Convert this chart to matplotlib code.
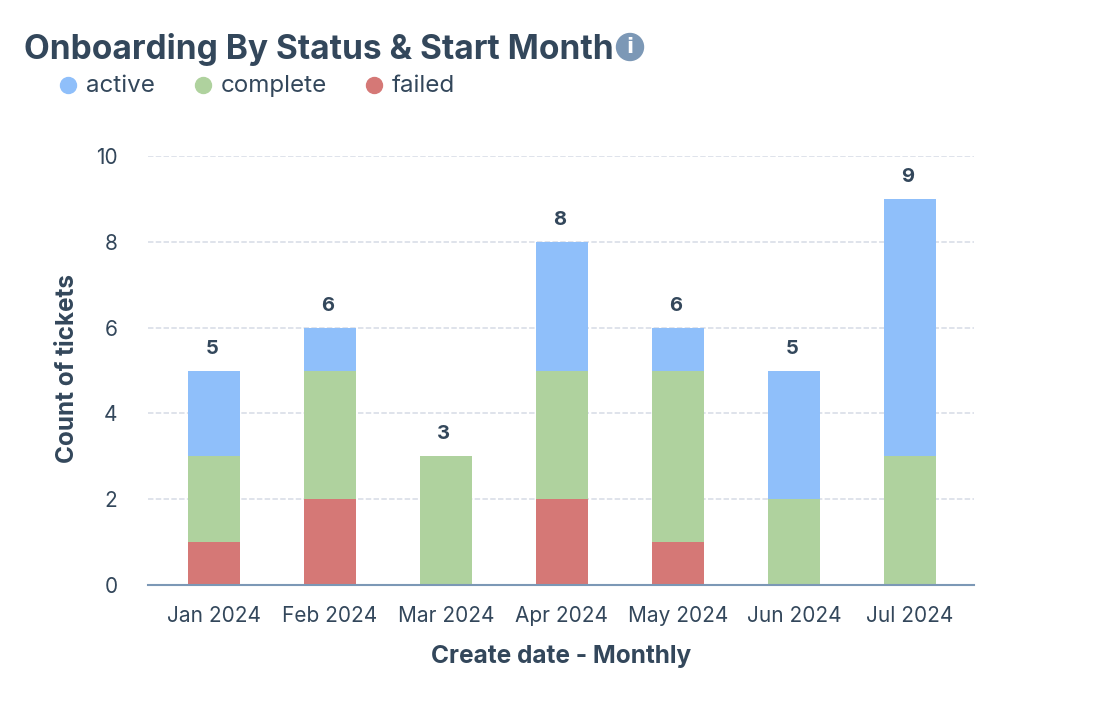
import matplotlib
matplotlib.use("Agg")
import numpy as np
import matplotlib.pyplot as plt
from matplotlib.lines import Line2D
from matplotlib.patches import Circle

months = ['Jan 2024', 'Feb 2024', 'Mar 2024', 'Apr 2024', 'May 2024', 'Jun 2024', 'Jul 2024']
failed = [1, 2, 0, 2, 1, 0, 0]
complete = [2, 3, 3, 3, 4, 2, 3]
active = [2, 1, 0, 3, 1, 3, 6]
totals = [5, 6, 3, 8, 6, 5, 9]
yticks = [0, 2, 4, 6, 8, 10]

W, H = 1096, 722
INK = '#33475b'
BLUE, GREEN, RED = '#8fbffa', '#afd29e', '#d57876'
plt.rcParams['font.family'] = ['Inter', 'DejaVu Sans']

fig = plt.figure(figsize=(W / 100, H / 100), dpi=100, facecolor='white')

# axes placed by pixel: plot area 148-974 wide, y=0 at 585, y=10 at 156
ax = fig.add_axes([148 / W, 1 - 585 / H, (974 - 148) / W, (585 - 156) / H])
x = np.arange(len(months))
bw = 0.448
ax.bar(x, failed, width=bw, color=RED, zorder=3)
ax.bar(x, complete, width=bw, bottom=failed, color=GREEN, zorder=3)
ax.bar(x, active, width=bw, bottom=np.add(failed, complete), color=BLUE, zorder=3)

for xi, t in zip(x, totals):
    ax.annotate(str(t), (xi, t), xytext=(-2, 13), textcoords='offset pixels',
                ha='center', va='bottom', fontsize=14.5, fontweight='bold', color=INK)

ax.set_xlim(-0.569, 6.552)
ax.set_ylim(0, 10)
ax.set_xticks(x, months)
ax.set_yticks(yticks)
ax.tick_params(axis='both', length=0, labelsize=15, labelcolor=INK)
ax.tick_params(axis='x', pad=15)
ax.tick_params(axis='y', pad=22)
ax.yaxis.grid(True, color='#dfe3eb', lw=1.4, ls=(0, (2.8, 1.2)), zorder=0)
ax.set_axisbelow(True)
for s in ['top', 'right', 'left']:
    ax.spines[s].set_visible(False)
ax.spines['bottom'].set_color('#7c98b6')
ax.spines['bottom'].set_linewidth(1.5)
ax.spines['bottom'].set_zorder(4)
ax.set_xlabel('Create date - Monthly', fontsize=17.6, fontweight='bold', color=INK)
ax.xaxis.set_label_coords((561 - 148) / (974 - 148), 1 - (663 - 156) / (585 - 156))
ax.xaxis.label.set_va('baseline')
ax.set_ylabel('Count of tickets', fontsize=17.5, fontweight='bold', color=INK)
ax.yaxis.set_label_coords((68 - 148) / (974 - 148), 0.505)
ax.yaxis.label.set_va('center')

fig.text(24 / W, 1 - 49 / H, 'Onboarding By Status & Start Month', fontsize=24.1,
         fontweight='bold', color=INK, va='center', ha='left')

# info icon
fig.add_artist(Circle((630, H - 47), 13.5, transform=None, color='#7c98b6'))
fig.text(630 / W, 1 - 47 / H, 'i', fontsize=15, fontweight='bold', color='white',
         ha='center', va='center', family='DejaVu Sans')

# legend
for px, name, col in [(68, 'active', BLUE), (203, 'complete', GREEN), (374, 'failed', RED)]:
    fig.add_artist(Line2D([px / W], [1 - 85 / H], marker='o', ms=11.5, color=col,
                          ls='none', transform=fig.transFigure))
    fig.text((px + 18) / W, 1 - 86 / H, name, fontsize=17.4, color=INK, va='center', ha='left')

fig.savefig('out.png', dpi=100)
